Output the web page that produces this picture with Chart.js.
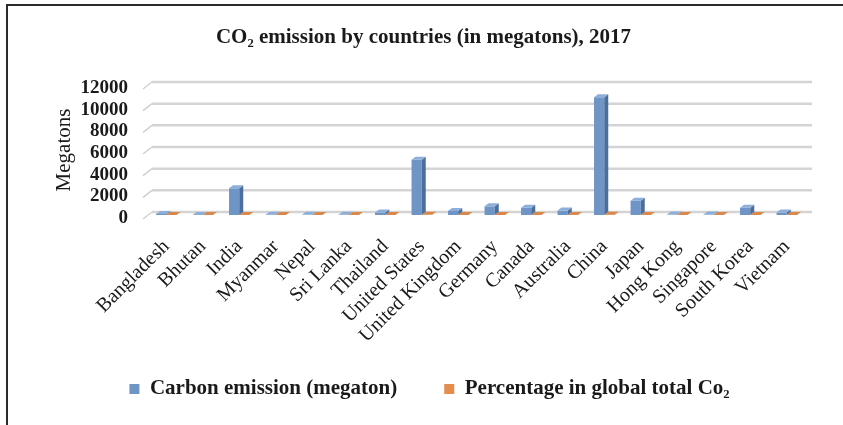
<!DOCTYPE html>
<html>
<head>
<meta charset="utf-8">
<script src="https://cdn.jsdelivr.net/npm/chart.js@4.4.0/dist/chart.umd.min.js"></script>
<style>
  html, body { margin: 0; padding: 0; background: #ffffff; }
  #wrap { width: 843px; height: 425px; }
</style>
</head>
<body>
<div id="wrap"><canvas id="c" width="843" height="425"></canvas></div>
<script>
// Countries shown along the category axis
const countries = ['Bangladesh', 'Bhutan', 'India', 'Myanmar', 'Nepal', 'Sri Lanka', 'Thailand',
  'United States', 'United Kingdom', 'Germany', 'Canada', 'Australia', 'China', 'Japan',
  'Hong Kong', 'Singapore', 'South Korea', 'Vietnam'];

// CO2 emission in 2017, megatons
const carbonEmission = [100, 2, 2467, 30, 12, 22, 230, 5107, 380, 800, 670, 410, 10877, 1320, 40, 40, 670, 220];

// Share of the global CO2 total, percent
const globalShare = [0.23, 0.003, 6.8, 0.09, 0.04, 0.06, 0.9, 14.0, 1.1, 2.2, 1.8, 1.1, 29.3, 3.5, 0.27, 0.13, 1.8, 0.6];

// Value-axis ticks
const yTicks = [0, 2000, 4000, 6000, 8000, 10000, 12000];

const SERIF = '"Liberation Serif", "Times New Roman", serif';
const DEPTH_X = 4, DEPTH_Y = 3;

const seriesColors = [
  { front: '#6f95c6', side: '#4b6f9d', top: '#8daed8' },
  { front: '#e58d4c', side: '#b86a30', top: '#d9874a' }
];

// Outer frame of the figure (top and left rules)
const framePlugin = {
  id: 'frame',
  beforeDraw(chart) {
    const ctx = chart.ctx;
    ctx.save();
    ctx.strokeStyle = '#2b2b2b';
    ctx.lineWidth = 2;
    ctx.beginPath();
    ctx.moveTo(843, 5);
    ctx.lineTo(7, 5);
    ctx.lineTo(7, 425);
    ctx.stroke();
    ctx.restore();
  }
};

// Back-wall gridlines with the short side-wall return on the left
const wallPlugin = {
  id: 'wall',
  beforeDatasetsDraw(chart) {
    const { ctx, chartArea, scales } = chart;
    ctx.save();
    yTicks.forEach(v => {
      const y = scales.y.getPixelForValue(v) - DEPTH_Y;
      ctx.strokeStyle = '#d4d4d4';
      ctx.lineWidth = 2.5;
      ctx.beginPath();
      ctx.moveTo(chartArea.left + DEPTH_X, y);
      ctx.lineTo(chartArea.right + 7, y);
      ctx.stroke();
      ctx.lineWidth = 1.5;
      ctx.strokeStyle = '#d0d0d0';
      ctx.beginPath();
      ctx.moveTo(chartArea.left + DEPTH_X, y);
      ctx.lineTo(chartArea.left - 5, y + 7);
      ctx.stroke();
    });
    ctx.restore();
  }
};

// Depth faces (top and right side) for every bar
const depthPlugin = {
  id: 'depth',
  afterDatasetsDraw(chart) {
    const ctx = chart.ctx;
    ctx.save();
    chart.data.datasets.forEach((ds, di) => {
      const meta = chart.getDatasetMeta(di);
      const col = seriesColors[di];
      meta.data.forEach(bar => {
        const { x, y, base, width } = bar.getProps(['x', 'y', 'base', 'width'], true);
        const l = x - width / 2, r = x + width / 2;
        ctx.fillStyle = col.side;
        ctx.beginPath();
        ctx.moveTo(r, y);
        ctx.lineTo(r + DEPTH_X, y - DEPTH_Y);
        ctx.lineTo(r + DEPTH_X, base - DEPTH_Y);
        ctx.lineTo(r, base);
        ctx.closePath();
        ctx.fill();
        ctx.fillStyle = col.top;
        ctx.beginPath();
        ctx.moveTo(l, y);
        ctx.lineTo(l + DEPTH_X, y - DEPTH_Y);
        ctx.lineTo(r + DEPTH_X, y - DEPTH_Y);
        ctx.lineTo(r, y);
        ctx.closePath();
        ctx.fill();
      });
    });
    ctx.restore();
  }
};

// Placement tweaks: centre title and legend on the plot, let long
// rotated category labels run below the axis box
const placementPlugin = {
  id: 'placement',
  afterLayout(chart) {
    const lg = chart.legend;
    if (lg) { lg.left += 24; lg.right += 24; }
    const tb = chart.titleBlock;
    if (tb) { tb.left += 18; tb.right += 18; }
    const xs = chart.scales.x;
    xs._computeLabelArea = function () {
      return { top: this.top, left: 0, bottom: chart.height, right: chart.width };
    };
  }
};

new Chart(document.getElementById('c'), {
  type: 'bar',
  data: {
    labels: countries,
    datasets: [
      {
        label: 'Carbon emission (megaton)',
        data: carbonEmission,
        backgroundColor: seriesColors[0].front,
        borderWidth: 0,
        categoryPercentage: 0.56,
        barPercentage: 1.0
      },
      {
        label: 'Percentage in global total Co\u2082',
        data: globalShare,
        backgroundColor: seriesColors[1].front,
        borderWidth: 0,
        categoryPercentage: 0.56,
        barPercentage: 1.0
      }
    ]
  },
  options: {
    responsive: false,
    animation: false,
    devicePixelRatio: 1,
    layout: { padding: { left: 6, right: 38, top: 0, bottom: 15.5 } },
    plugins: {
      title: {
        display: true,
        text: 'CO\u2082 emission by countries (in megatons), 2017',
        color: '#1a1a1a',
        font: { family: SERIF, size: 21, weight: 'bold' },
        padding: { top: 25.4, bottom: 34.4 }
      },
      legend: {
        display: true,
        position: 'bottom',
        labels: {
          color: '#1a1a1a',
          font: { family: SERIF, size: 21, weight: 'bold' },
          boxWidth: 10,
          boxHeight: 10,
          padding: 47
        }
      },
      tooltip: { enabled: false }
    },
    scales: {
      x: {
        grid: { display: false, drawTicks: false },
        border: { display: false },
        ticks: {
          color: '#1a1a1a',
          font: { family: SERIF, size: 20 },
          maxRotation: 45,
          minRotation: 45,
          autoSkip: false,
          padding: 20
        },
        afterFit(scale) { scale.height = 116.5; }
      },
      y: {
        min: 0,
        max: 12000,
        grid: { display: false, drawTicks: false },
        border: { display: false },
        afterBuildTicks(scale) { scale.ticks = yTicks.map(v => ({ value: v })); },
        ticks: {
          autoSkip: false,
          color: '#1a1a1a',
          font: { family: SERIF, size: 19, weight: 'bold' },
          padding: 20,
          labelOffset: 3,
          callback: v => String(v)
        },
        title: {
          display: true,
          text: 'Megatons',
          color: '#1a1a1a',
          font: { family: SERIF, size: 21 },
          padding: { top: 46, bottom: 0 }
        },
        afterFit(scale) { scale.width = 142; }
      }
    }
  },
  plugins: [framePlugin, wallPlugin, depthPlugin, placementPlugin]
});
</script>
</body>
</html>
